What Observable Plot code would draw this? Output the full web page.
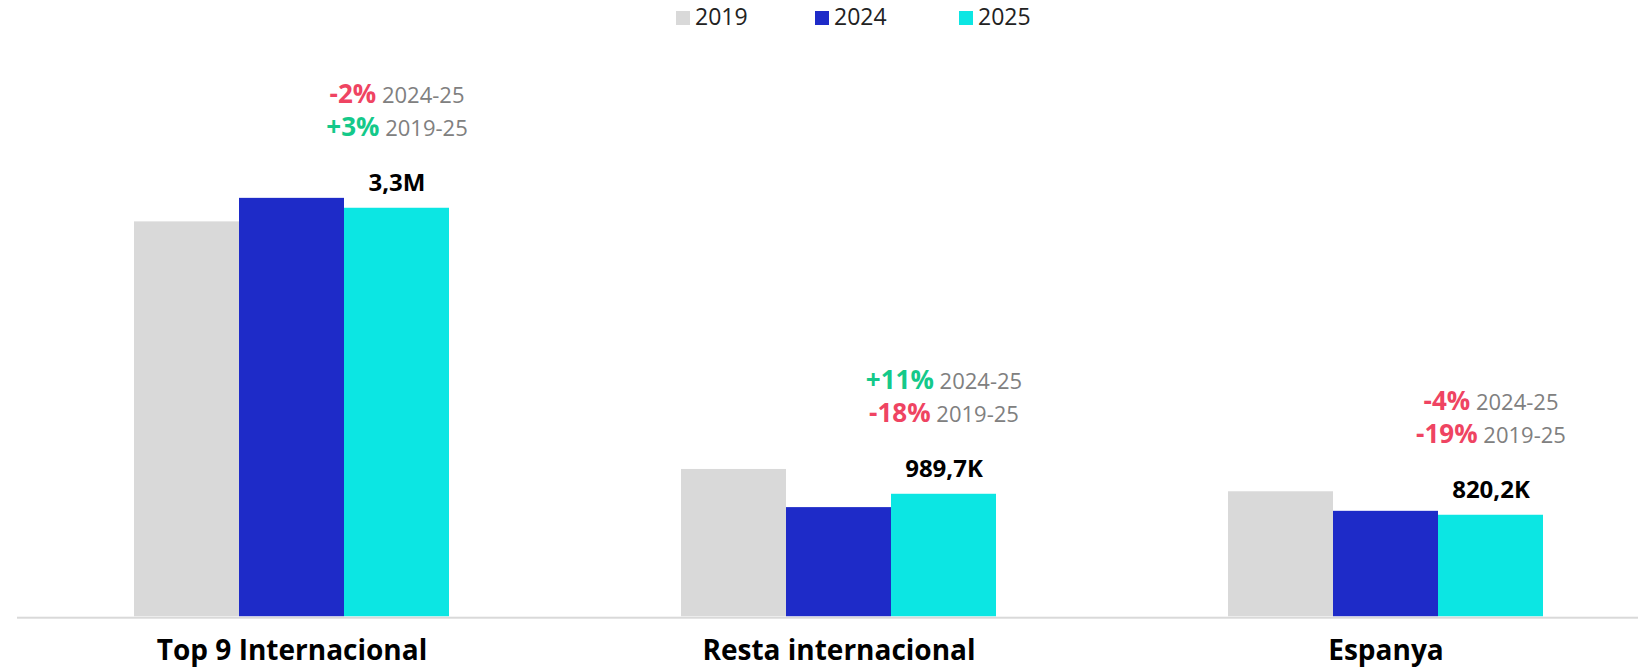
<!DOCTYPE html>
<html>
<head>
<meta charset="utf-8">
<script src="https://cdn.jsdelivr.net/npm/d3@7"></script>
<script src="https://cdn.jsdelivr.net/npm/@observablehq/plot@0.6"></script>
<style>
  html, body { margin: 0; padding: 0; background: #fff; }
  #legend { position: relative; height: 36px; font-family: "Open Sans", sans-serif; font-size: 23px; color: #222; }
  #legend .item { position: absolute; top: 0; height: 36px; }
  #legend .sw { position: absolute; top: 11px; left: 0; width: 14px; height: 14px; }
  #legend .lb { position: absolute; top: 5px; left: 19px; line-height: 23px; white-space: nowrap; }
</style>
</head>
<body>
<div id="legend"></div>
<div id="chart"></div>
<script>
// ---- data ----
const categories = ["Top 9 Internacional", "Resta internacional", "Espanya"];
const years = ["2019", "2024", "2025"];
const values2019 = [3190000, 1190000, 1010000];
const values2024 = [3380000, 882000, 852000];
const values2025 = [3300000, 989700, 820200];
const labels2025 = ["3,3M", "989,7K", "820,2K"];
const change2425 = ["-2%", "+11%", "-4%"];
const change1925 = ["+3%", "-18%", "-19%"];
const period1 = "2024-25";
const period2 = "2019-25";
const colors = ["#d9d9d9", "#1e2bc8", "#0ce6e3"];
const legendLeft = [676, 815, 959];

// ---- legend ----
const leg = document.getElementById("legend");
years.forEach((y, i) => {
  const it = document.createElement("div");
  it.className = "item";
  it.style.left = legendLeft[i] + "px";
  it.innerHTML = `<div class="sw" style="background:${colors[i]}"></div><div class="lb">${y}</div>`;
  leg.appendChild(it);
});

// ---- table ----
const series = [values2019, values2024, values2025];
const data = categories.flatMap((c, i) => years.map((y, j) => ({category: c, year: y, value: series[j][i]})));
const last = categories.map((c, i) => ({category: c, year: "2025", value: values2025[i], label: labels2025[i],
  a1: change2425[i] + "|" + period1, a2: change1925[i] + "|" + period2}));

const chart = Plot.plot({
  width: 1638,
  height: 632,
  marginLeft: 16, marginRight: 0, marginTop: 0, marginBottom: 49.3,
  style: {fontFamily: "'Open Sans', sans-serif", overflow: "visible", background: "#fff"},
  fx: {domain: categories, range: [16.6, 1659.7], paddingInner: 0.4212, paddingOuter: 0.2106, axis: null},
  x: {domain: years, padding: 0, axis: null},
  y: {domain: [0, 4000000], range: [580.3, 85.1], axis: null},
  color: {domain: years, range: colors},
  marks: [
    Plot.barY(data, {fx: "category", x: "year", y: "value", fill: "year"}),
    Plot.rect([0], {facet: "super", fill: "#d9d9d9", insetTop: 580.7, insetLeft: -116, insetRight: -120}),
    Plot.text(last, {fx: "category", x: "year", y: "value", text: "label", fontSize: 24, fontWeight: 700, fill: "#000", dy: -25}),
    Plot.text(last, {fx: "category", x: "year", y: "value", text: "a1", fontSize: 22, fill: "#808080", dy: -112}),
    Plot.text(last, {fx: "category", x: "year", y: "value", text: "a2", fontSize: 22, fill: "#808080", dy: -79}),
    Plot.text(categories, {fx: d => d, text: d => d, frameAnchor: "bottom", dy: 41, fontSize: 28, fontWeight: 700, fill: "#000"})
  ]
});

// style the annotation lines: bold coloured change + grey period
chart.querySelectorAll("text").forEach(t => {
  const s = t.textContent;
  if (!s.includes("|")) return;
  const [pct, per] = s.split("|");
  t.textContent = "";
  const ns = "http://www.w3.org/2000/svg";
  const a = document.createElementNS(ns, "tspan");
  a.textContent = pct;
  a.setAttribute("font-weight", "700");
  a.setAttribute("font-size", "26");
  a.setAttribute("fill", pct.startsWith("+") ? "#14c98a" : "#ef4462");
  const b = document.createElementNS(ns, "tspan");
  b.textContent = "\u00a0" + per;
  b.setAttribute("fill", "#808080");
  t.appendChild(a);
  t.appendChild(b);
});

document.getElementById("chart").appendChild(chart);
</script>
</body>
</html>
